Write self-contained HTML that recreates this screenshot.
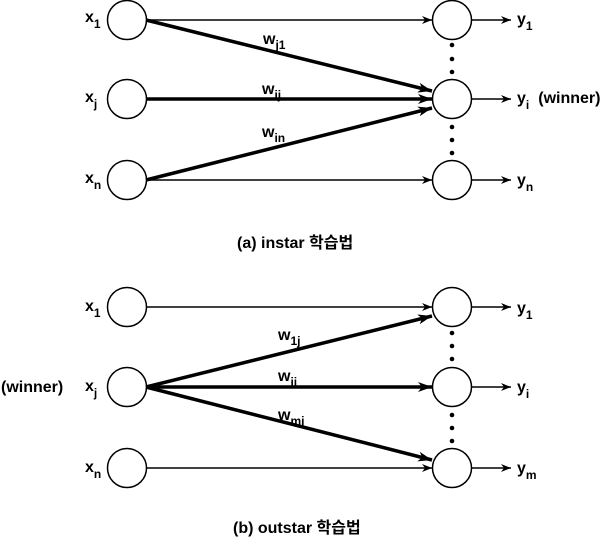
<!DOCTYPE html>
<html><head><meta charset="utf-8"><style>
html,body{margin:0;padding:0;background:#fff}
svg{display:block}
text{font-family:"Liberation Sans","Noto Sans CJK KR",sans-serif;font-weight:bold;font-size:16px;fill:#000}
.s{font-size:12px}
</style></head><body>
<svg width="612" height="537" viewBox="0 0 612 537" xmlns="http://www.w3.org/2000/svg">
<defs>
<marker id="a" markerWidth="10" markerHeight="8" refX="10" refY="4" orient="auto" markerUnits="userSpaceOnUse"><path d="M0,0 L10,4 L0,8 L3,4 Z" fill="#000"/></marker>
<marker id="b" markerWidth="14" markerHeight="10" refX="14" refY="5" orient="auto" markerUnits="userSpaceOnUse"><path d="M0,0 L14,5 L0,10 L4,5 Z" fill="#000"/></marker>
</defs>
<g fill="none" stroke="#000" stroke-width="1.5">
<ellipse cx="127" cy="20" rx="19.5" ry="19.5"/>
<ellipse cx="127" cy="99" rx="19.5" ry="19.5"/>
<ellipse cx="127" cy="180" rx="19.5" ry="19.5"/>
<ellipse cx="452" cy="20" rx="19.5" ry="19.5"/>
<ellipse cx="452" cy="99" rx="19.5" ry="19.5"/>
<ellipse cx="452" cy="180" rx="19.5" ry="19.5"/>
<line x1="146" y1="20" x2="432" y2="20" marker-end="url(#a)"/>
<line x1="146" y1="180" x2="432" y2="180" marker-end="url(#a)"/>
<line x1="472" y1="20" x2="511" y2="20" marker-end="url(#a)"/>
<line x1="472" y1="99" x2="511" y2="99" marker-end="url(#a)"/>
<line x1="472" y1="180" x2="511" y2="180" marker-end="url(#a)"/>
<g stroke-width="3.5">
<line x1="146" y1="20" x2="432" y2="91" marker-end="url(#b)"/>
<line x1="146" y1="99" x2="432" y2="99" marker-end="url(#b)"/>
<line x1="146" y1="180" x2="432" y2="108" marker-end="url(#b)"/>
</g>
<ellipse cx="127" cy="307" rx="19.5" ry="19.5"/>
<ellipse cx="127" cy="387" rx="19.5" ry="19.5"/>
<ellipse cx="127" cy="468" rx="19.5" ry="19.5"/>
<ellipse cx="452" cy="307" rx="19.5" ry="19.5"/>
<ellipse cx="452" cy="387" rx="19.5" ry="19.5"/>
<ellipse cx="452" cy="468" rx="19.5" ry="19.5"/>
<line x1="146" y1="307" x2="432" y2="307" marker-end="url(#a)"/>
<line x1="146" y1="468" x2="432" y2="468" marker-end="url(#a)"/>
<line x1="472" y1="307" x2="511" y2="307" marker-end="url(#a)"/>
<line x1="472" y1="387" x2="511" y2="387" marker-end="url(#a)"/>
<line x1="472" y1="468" x2="511" y2="468" marker-end="url(#a)"/>
<g stroke-width="3.5">
<line x1="146" y1="387" x2="432" y2="316" marker-end="url(#b)"/>
<line x1="146" y1="387" x2="432" y2="387" marker-end="url(#b)"/>
<line x1="146" y1="387" x2="432" y2="460" marker-end="url(#b)"/>
</g>
</g>
<g fill="#000">
<circle cx="452" cy="45" r="2.3"/><circle cx="452" cy="59" r="2.3"/><circle cx="452" cy="72" r="2.3"/>
<circle cx="452" cy="127" r="2.3"/><circle cx="452" cy="140" r="2.3"/><circle cx="452" cy="153" r="2.3"/>
<circle cx="452" cy="333" r="2.3"/><circle cx="452" cy="346" r="2.3"/><circle cx="452" cy="359" r="2.3"/>
<circle cx="452" cy="415" r="2.3"/><circle cx="452" cy="428" r="2.3"/><circle cx="452" cy="441" r="2.3"/>
</g>
<text x="85" y="22">x<tspan class="s" dy="6">1</tspan></text>
<text x="85" y="102">x<tspan class="s" dy="6">j</tspan></text>
<text x="85" y="183">x<tspan class="s" dy="6">n</tspan></text>
<text x="517" y="24">y<tspan class="s" dy="6">1</tspan></text>
<text x="517" y="103">y<tspan class="s" dy="6">i</tspan><tspan dy="-6" dx="9">(winner)</tspan></text>
<text x="517" y="185">y<tspan class="s" dy="6">n</tspan></text>
<text x="263" y="44">w<tspan class="s" dy="5">j1</tspan></text>
<text x="262" y="94">w<tspan class="s" dy="5">ij</tspan></text>
<text x="262" y="137">w<tspan class="s" dy="5">in</tspan></text>
<text x="237" y="248">(a) instar 학습법</text>
<text x="85" y="311">x<tspan class="s" dy="6">1</tspan></text>
<text x="1" y="392">(winner)</text>
<text x="85" y="391">x<tspan class="s" dy="6">j</tspan></text>
<text x="85" y="472">x<tspan class="s" dy="6">n</tspan></text>
<text x="517" y="313">y<tspan class="s" dy="6">1</tspan></text>
<text x="517" y="392">y<tspan class="s" dy="6">i</tspan></text>
<text x="517" y="473">y<tspan class="s" dy="6">m</tspan></text>
<text x="278" y="340">w<tspan class="s" dy="5">1j</tspan></text>
<text x="278" y="381">w<tspan class="s" dy="5">ij</tspan></text>
<text x="278" y="420">w<tspan class="s" dy="5">mj</tspan></text>
<text x="233" y="533">(b) outstar 학습법</text>
</svg>
</body></html>
